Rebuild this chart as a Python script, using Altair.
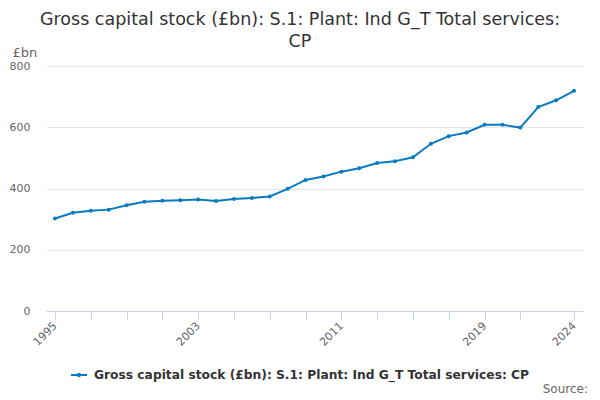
import altair as alt
import pandas as pd

# values
years = list(range(1995, 2025))
values = [302, 321, 327, 331, 345, 357, 360, 362, 364, 359,
          366, 369, 374, 399, 428, 439, 455, 466, 483, 489,
          502, 546, 571, 583, 608, 608, 599, 666, 688, 719]
series_name = "Gross capital stock (£bn): S.1: Plant: Ind G_T Total services: CP"
title_text = "Gross capital stock (£bn): S.1: Plant: Ind G_T Total services:\nCP"
x_tick_years = list(range(1995, 2022, 2)) + [2024]
x_label_years = [1995, 2003, 2011, 2019, 2024]
y_ticks = [0, 200, 400, 600, 800]
y_unit = "£bn"
source_text = "Source:"

df = pd.DataFrame({"year": years, "value": values, "series": series_name})

LINE = "#0b7bc1"
FONT = "DejaVu Sans"
label_expr = "indexof([%s], datum.value) >= 0 ? datum.value : ''" % ",".join(
    str(y) for y in x_label_years)

line = alt.Chart(df).mark_line(
    strokeWidth=2,
    point=alt.OverlayMarkDef(filled=True, size=16),
).encode(
    x=alt.X("year:Q",
            scale=alt.Scale(domain=[1994.5, 2024.5], nice=False, zero=False),
            axis=alt.Axis(values=x_tick_years, labelExpr=label_expr, title=None,
                          grid=False, labelAngle=-45, labelAlign="right",
                          labelBaseline="middle", labelPadding=4,
                          labelOverlap=False, labelFlush=False,
                          tickSize=9, tickColor="#ccd6eb", domainColor="#ccd6eb",
                          labelFont=FONT, labelFontSize=11, labelColor="#666666")),
    y=alt.Y("value:Q",
            scale=alt.Scale(domain=[0, 800], nice=False),
            axis=alt.Axis(values=y_ticks, title=y_unit, titleAngle=0,
                          titleX=-34, titleY=-14, titleAlign="left",
                          titleBaseline="middle", titleFont=FONT,
                          titleFontSize=13, titleFontWeight="normal",
                          titleColor="#666666", domain=False, ticks=False,
                          labelPadding=16, gridColor="#e6e6e6",
                          labelFont=FONT, labelFontSize=11, labelColor="#666666")),
    color=alt.Color("series:N", scale=alt.Scale(range=[LINE]),
                    legend=alt.Legend(orient="none", legendX=24, legendY=300,
                                      title=None, padding=0,
                                      symbolType="M-1,0L1,0M-0.15,0a0.15,0.15 0 1,0 0.3,0a0.15,0.15 0 1,0 -0.3,0",
                                      symbolSize=256, symbolStrokeWidth=2,
                                      symbolFillColor=LINE, symbolStrokeColor=LINE,
                                      labelFont=FONT, labelFontSize=12.25,
                                      labelFontWeight="bold", labelColor="#333333",
                                      labelOffset=6, labelLimit=600)),
)

title = alt.Chart(pd.DataFrame({"t": [title_text]})).mark_text(
    font=FONT, fontSize=17.5, color="#333333", align="center",
    baseline="alphabetic", lineBreak="\n", lineHeight=22,
).encode(text="t:N", x=alt.value(254), y=alt.value(-41))

source = alt.Chart(pd.DataFrame({"t": [source_text]})).mark_text(
    font=FONT, fontSize=12, color="#666666", align="right", baseline="alphabetic",
).encode(text="t:N", x=alt.value(542), y=alt.value(327))

chart = alt.layer(line, title, source).properties(
    width=537, height=245,
    autosize=alt.AutoSizeParams(type="none"),
    padding={"left": 38, "top": 58, "right": 9, "bottom": 84},
).configure_view(stroke=None)

chart.save("out.html", embed_options={"renderer": "svg", "actions": False})
